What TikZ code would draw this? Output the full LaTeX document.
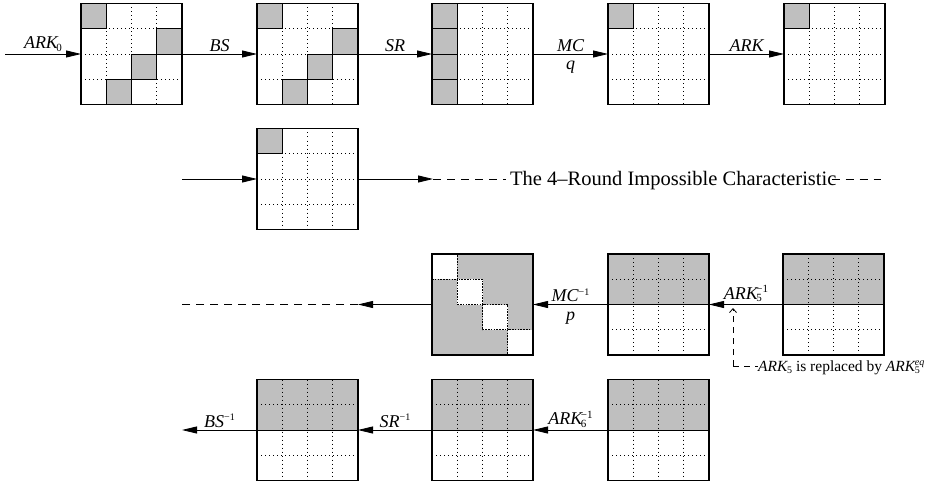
\documentclass[tikz,border=0pt]{standalone}
\usepackage{fontspec}
\setmainfont{Liberation Serif}
\usetikzlibrary{arrows.meta,calc}

% cell size of the 4x4 state grids
\newcommand\cs{25.25}

\tikzset{
  x=1pt, y=-1pt,
  frame/.style={line width=1.1pt},
  dotln/.style={line width=0.7pt, dash pattern=on 0.7pt off 3.3pt},
  cellfill/.style={fill=gray!50, draw=black, line width=0.8pt},
  arr/.style={line width=0.8pt, -{Triangle[length=15pt,width=7pt]}},
  dashln/.style={line width=0.8pt, dash pattern=on 8pt off 6pt},
  holder/.style={minimum size=101pt, inner sep=0pt, outer sep=0pt},
  lab/.style={font=\fontsize{18}{18}\selectfont\itshape, inner sep=2pt},
  labbelow/.style={lab, below=5pt},
  charst/.style={font=\fontsize{20.5}{20.5}\selectfont, inner sep=0pt},
  notest/.style={font=\fontsize{15.5}{15.5}\selectfont, inner sep=0pt},
}

% sub- and superscripts for the operation names
\newcommand\sbs[2][11]{\raisebox{-0.15em}{\fontsize{#1}{#1}\selectfont\upshape #2}}
\newcommand\sps[2][10]{\raisebox{0.36em}{\fontsize{#1}{#1}\selectfont\upshape #2}}
\newcommand\sbsp[3][11]{\rlap{\sbs[#1]{#2}}\sps[#1]{#3}}

% grid helpers, used inside a scope shifted to a box's north west corner
\newcommand\dotgrid{\foreach \k in {1,2,3}{%
  \draw[dotln] (\k*\cs,0) -- (\k*\cs,101);
  \draw[dotln] (0,\k*\cs) -- (101,\k*\cs);}}
\newcommand\gcell[2]{\draw[cellfill] ({(#2-1)*\cs},{(#1-1)*\cs}) rectangle ++(\cs,\cs);}
\newcommand\frm[1]{\draw[frame] (#1.north west) rectangle (#1.south east);}
\newcommand\halfgray[1]{%
  \begin{scope}[shift={(#1.north west)}]
    \fill[gray!50] (0,0) rectangle (101,50.5);
    \dotgrid
    \draw[line width=0.8pt] (0,50.5) -- (101,50.5);
  \end{scope}\frm{#1}}

\begin{document}
\begin{tikzpicture}
\useasboundingbox (0,0) rectangle (931,484);

% ---- boxes ----
\node[holder] (b11) at (131.5,54) {};
\node[holder] (b12) at (307.5,54) {};
\node[holder] (b13) at (482.5,54) {};
\node[holder] (b14) at (658.5,54) {};
\node[holder] (b15) at (834.5,54) {};
\node[holder] (b21) at (307.5,179) {};
\node[holder] (b31) at (482.5,304.5) {};
\node[holder] (b32) at (658.5,304.5) {};
\node[holder] (b33) at (833.5,304.5) {};
\node[holder] (b41) at (307.5,430) {};
\node[holder] (b42) at (482.5,430) {};
\node[holder] (b43) at (658.5,430) {};

% diagonal pattern
\foreach \b in {b11,b12}{
  \begin{scope}[shift={(\b.north west)}]
    \dotgrid
    \gcell{1}{1}\gcell{2}{4}\gcell{3}{3}\gcell{4}{2}
  \end{scope}\frm{\b}}
% first column
\begin{scope}[shift={(b13.north west)}]
  \dotgrid
  \gcell{1}{1}\gcell{2}{1}\gcell{3}{1}\gcell{4}{1}
\end{scope}\frm{b13}
% single active byte
\foreach \b in {b14,b15,b21}{
  \begin{scope}[shift={(\b.north west)}]
    \dotgrid
    \gcell{1}{1}
  \end{scope}\frm{\b}}
% all but the diagonal
\begin{scope}[shift={(b31.north west)}]
  \fill[gray!50] (0,0) rectangle (101,101);
  \foreach \k in {1,2,3,4}{
    \draw[fill=white, line width=0.7pt, dash pattern=on 1.6pt off 1.2pt]
      ({(\k-1)*\cs},{(\k-1)*\cs}) rectangle ++(\cs,\cs);}
\end{scope}\frm{b31}
% upper two rows
\halfgray{b32}\halfgray{b33}\halfgray{b41}\halfgray{b42}\halfgray{b43}

% ---- row 1 ----
\coordinate (in1) at (5,54);
\draw[arr] (in1) -- (b11.west) node[lab,midway,above] {ARK\kern-1.5pt\sbs{0}};
\draw[arr] (b11.east) -- (b12.west) node[lab,midway,above] {BS};
\draw[arr] (b12.east) -- (b13.west) node[lab,midway,above] {SR};
\draw[arr] (b13.east) -- (b14.west) node[lab,midway,above] {MC}
                                    node[labbelow,midway] {q};
\draw[arr] (b14.east) -- (b15.west) node[lab,midway,above] {ARK};

% ---- row 2 ----
\coordinate (in2) at (182,179);
\coordinate (t2) at (433,179);
\coordinate (e2) at (881,179);
\draw[arr] (in2) -- (b21.west);
\draw[arr] (b21.east) -- (t2);
\node[charst, anchor=base west] (chr) at (510,185) {The 4–Round Impossible Characteristic};
\draw[dashln] (t2) -- ($(t2 -| chr.west)+(-4,0)$);
\draw[dashln] ($(t2 -| chr.east)+(-5,0)$) -- (e2);

% ---- row 3 ----
\coordinate (t3) at (358,304.5);
\coordinate (e3) at (182,304.5);
\draw[arr] (b31.west) -- (t3);
\draw[dashln] (t3) -- (e3);
\draw[arr] (b32.west) -- (b31.east) node[lab,midway,above] {MC\sps{−1}}
                                    node[labbelow,midway] {p};
\draw[arr] (b33.west) -- (b32.east) node[lab,midway,above] {ARK\kern-1.5pt\sbsp{5}{−1}};

% note on the last key addition
\coordinate (n0) at (733,366);
\coordinate (n1) at (733,308);
\node[notest, anchor=base west] (nt) at (758,371)
  {\textit{ARK}\kern-1pt\sbs[10]{5} is replaced by \textit{ARK}\kern-1pt\sbsp[10]{5}{\itshape eq}};
\draw[dashln, dash pattern=on 6pt off 5pt, -{Straight Barb[length=4pt,width=7pt]}] (n0) -- (n1);
\draw[dashln, dash pattern=on 6pt off 5pt] (n0) -- (n0 -| nt.west);

% ---- row 4 ----
\coordinate (e4) at (182,430);
\draw[arr] (b41.west) -- (e4) node[lab,midway,above] {BS\sps{−1}};
\draw[arr] (b42.west) -- (b41.east) node[lab,midway,above] {SR\sps{−1}};
\draw[arr] (b43.west) -- (b42.east) node[lab,midway,above] {ARK\kern-1.5pt\sbsp{6}{−1}};
\end{tikzpicture}
\end{document}
